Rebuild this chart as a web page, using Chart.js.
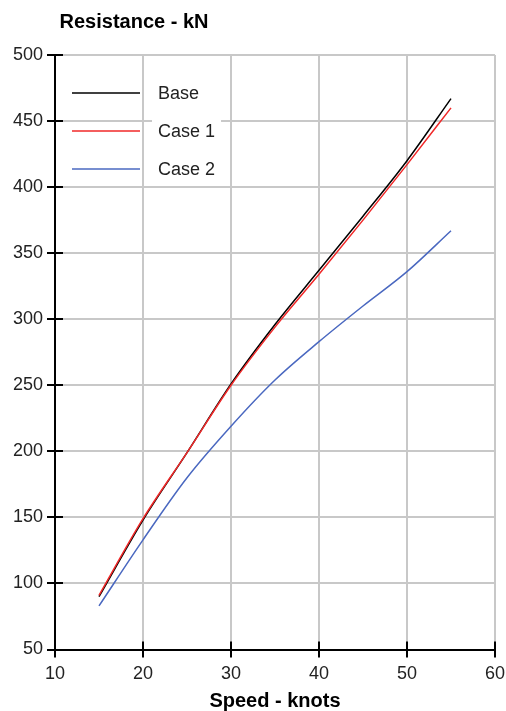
<!DOCTYPE html>
<html>
<head>
<meta charset="utf-8">
<script src="https://cdn.jsdelivr.net/npm/chart.js@4"></script>
<style>
  body { margin: 0; background: #fff; }
  canvas { display: block; }
</style>
</head>
<body>
<canvas id="stage" width="506" height="711"></canvas>
<script>
// speed in knots, resistance in kN
const speeds = [15, 20, 25, 30, 35, 40, 45, 50, 55];
const base = [90, 148, 199, 251, 296, 337, 378, 420, 467];
const case1 = [91, 149, 199, 250, 294, 334, 375, 417, 460];
const case2 = [83, 133, 180, 219, 254, 283, 310, 336, 367];

const seriesNames = ['Base', 'Case 1', 'Case 2'];
const seriesColors = ['#000000', '#f02828', '#4a68c0'];
// lower number is drawn on top (red sits over black in the original)
const drawOrder = [1, 0, 2];

const xTitle = 'Speed - knots';
const yTitle = 'Resistance - kN';

function pts(vals) {
  return speeds.map((s, i) => ({ x: s, y: vals[i] }));
}

const tickFont = { family: 'Liberation Sans, Arial, sans-serif', size: 18 };

// titles, inner tick marks and the legend
const extras = {
  id: 'extras',
  afterDraw(chart) {
    const ctx = chart.ctx;
    const area = chart.chartArea;
    const xs = chart.scales.x, ys = chart.scales.y;
    ctx.save();

    // inner halves of the tick marks
    ctx.strokeStyle = '#000';
    ctx.lineWidth = 2;
    ctx.beginPath();
    xs.ticks.forEach(t => {
      const px = Math.round(xs.getPixelForValue(t.value));
      ctx.moveTo(px, area.bottom);
      ctx.lineTo(px, area.bottom - 8);
    });
    ys.ticks.forEach(t => {
      const py = Math.round(ys.getPixelForValue(t.value));
      ctx.moveTo(area.left, py);
      ctx.lineTo(area.left + 8, py);
    });
    ctx.stroke();

    // legend
    ctx.font = '18px Liberation Sans, Arial, sans-serif';
    ctx.textBaseline = 'middle';
    ctx.textAlign = 'left';
    chart.data.datasets.forEach((ds, i) => {
      const y = 93 + i * 38;
      ctx.strokeStyle = ds.borderColor;
      ctx.lineWidth = 1.5;
      ctx.beginPath();
      ctx.moveTo(72, y);
      ctx.lineTo(140, y);
      ctx.stroke();
      const w = ctx.measureText(ds.label).width;
      ctx.fillStyle = '#fff';
      ctx.fillRect(152, y - 12, w + 12, 24);
      ctx.fillStyle = '#222';
      ctx.fillText(ds.label, 158, y + 1);
    });

    // axis titles
    ctx.fillStyle = '#000';
    ctx.font = 'bold 20px Liberation Sans, Arial, sans-serif';
    ctx.textAlign = 'center';
    ctx.fillText(yTitle, 134, 22);
    ctx.fillText(xTitle, (area.left + area.right) / 2, 701);
    ctx.restore();
  }
};

const seriesValues = [base, case1, case2];

new Chart(document.getElementById('stage'), {
  type: 'line',
  data: {
    datasets: seriesValues.map((vals, i) => ({
      label: seriesNames[i],
      data: pts(vals),
      borderColor: seriesColors[i],
      order: drawOrder[i],
      borderWidth: 1.5,
      pointRadius: 0,
      fill: false,
      cubicInterpolationMode: 'monotone'
    }))
  },
  options: {
    responsive: false,
    animation: false,
    devicePixelRatio: 1,
    layout: { padding: { top: 55, right: 11, left: 0, bottom: 0 } },
    plugins: { legend: { display: false }, tooltip: { enabled: false } },
    scales: {
      x: {
        type: 'linear',
        min: 10, max: 60,
        ticks: { stepSize: 10, color: '#222', font: tickFont, padding: 6, maxRotation: 0 },
        grid: { color: '#c8c8c8', lineWidth: 2, tickColor: '#000', tickLength: 8, tickWidth: 2 },
        border: { color: '#000', width: 2 },
        afterFit(s) {
          s.height = 61.5;
          s.paddingLeft = 0;
          s.paddingRight = 0;
        }
      },
      y: {
        min: 50, max: 500,
        ticks: { stepSize: 50, color: '#222', font: tickFont, padding: 4 },
        grid: { color: '#c8c8c8', lineWidth: 2, tickColor: '#000', tickLength: 8, tickWidth: 2 },
        border: { color: '#000', width: 2 },
        afterFit(s) {
          s.width = 55;
          s.paddingTop = 0;
          s.paddingBottom = 0;
        }
      }
    }
  },
  plugins: [extras]
});
</script>
</body>
</html>
